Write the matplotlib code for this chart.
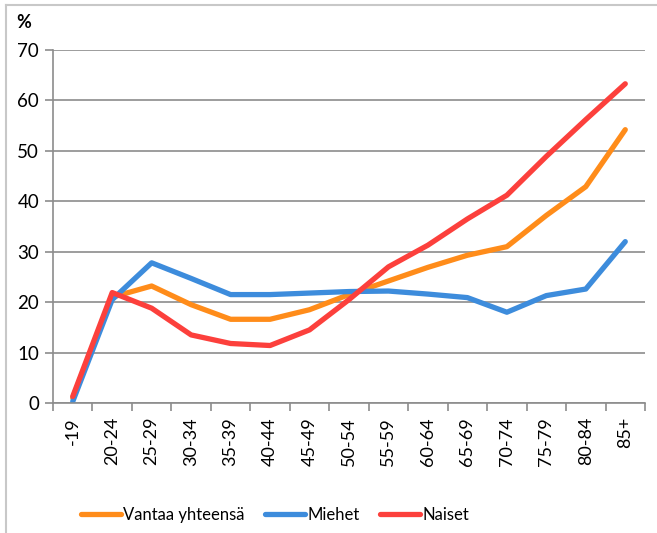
import matplotlib
matplotlib.use('Agg')
import matplotlib.pyplot as plt
from matplotlib.lines import Line2D

plt.rcParams['font.family'] = ['Lato', 'DejaVu Sans']

# Ikaryhmat
ikaryhmat = ['-19', '20-24', '25-29', '30-34', '35-39', '40-44', '45-49', '50-54',
             '55-59', '60-64', '65-69', '70-74', '75-79', '80-84', '85+']

# Osuudet (%)
vantaa = [1.0, 21.0, 23.2, 19.5, 16.6, 16.6, 18.5, 21.5, 24.2, 26.9, 29.3, 31.0, 37.2, 42.9, 54.2]
miehet = [0.3, 20.5, 27.8, 24.7, 21.5, 21.5, 21.8, 22.1, 22.2, 21.6, 20.9, 18.0, 21.3, 22.6, 32.0]
naiset = [1.3, 21.9, 18.8, 13.5, 11.8, 11.4, 14.5, 20.5, 27.0, 31.3, 36.5, 41.2, 48.9, 56.2, 63.3]

c_or = '#ff8c1a'
c_bl = '#3d8cdc'
c_re = '#fc403c'

fig = plt.figure(figsize=(6.57, 5.33), dpi=100)
ax = fig.add_axes([53/657, 1-403/533, 592/657, 353/533])

x = range(len(ikaryhmat))
lw = 3.8
ax.plot(x, vantaa, color=c_or, lw=lw, solid_capstyle='round', label='Vantaa yhteensä')
ax.plot(x, miehet, color=c_bl, lw=lw, solid_capstyle='round', label='Miehet')
ax.plot(x, naiset, color=c_re, lw=lw, solid_capstyle='round', label='Naiset')

ax.set_xlim(-0.5, len(ikaryhmat)-0.5)
ax.set_ylim(0, 70)
ax.set_yticks(range(0, 71, 10))
ax.set_xticks(list(x))
ax.set_xticklabels(ikaryhmat, rotation=90, fontsize=13)
ax.set_xticks([i - 0.5 for i in range(len(ikaryhmat)+1)], minor=True)
ax.tick_params(axis='x', which='major', length=0, pad=10)
ax.tick_params(axis='x', which='minor', length=6, color='#8c8c8c', width=1.2)
ax.tick_params(axis='y', length=6, color='#8c8c8c', width=1.2, labelsize=13.5, pad=4)
ax.grid(axis='y', color='#8c8c8c', lw=1.2)
ax.set_axisbelow(True)
for s in ['top', 'right']:
    ax.spines[s].set_visible(False)
for s in ['left', 'bottom']:
    ax.spines[s].set_color('#8c8c8c')
    ax.spines[s].set_linewidth(1.2)

fig.text(16/657, 1-22/533, '%', fontsize=13, fontweight='bold', va='center')

leg = fig.legend(loc='center', bbox_to_anchor=(275/657, 1-515/533), ncol=3, frameon=False,
                 fontsize=12, handlelength=2.4, handletextpad=0.15, columnspacing=1.2,
                 borderaxespad=0)

# kehys
fig.add_artist(Line2D([6/657, 1], [1-5/533, 1-5/533], color='#c8c8c8', lw=1.5))
fig.add_artist(Line2D([6/657, 6/657], [0, 1-5/533], color='#c8c8c8', lw=1.5))

fig.savefig('out.png', dpi=100)
